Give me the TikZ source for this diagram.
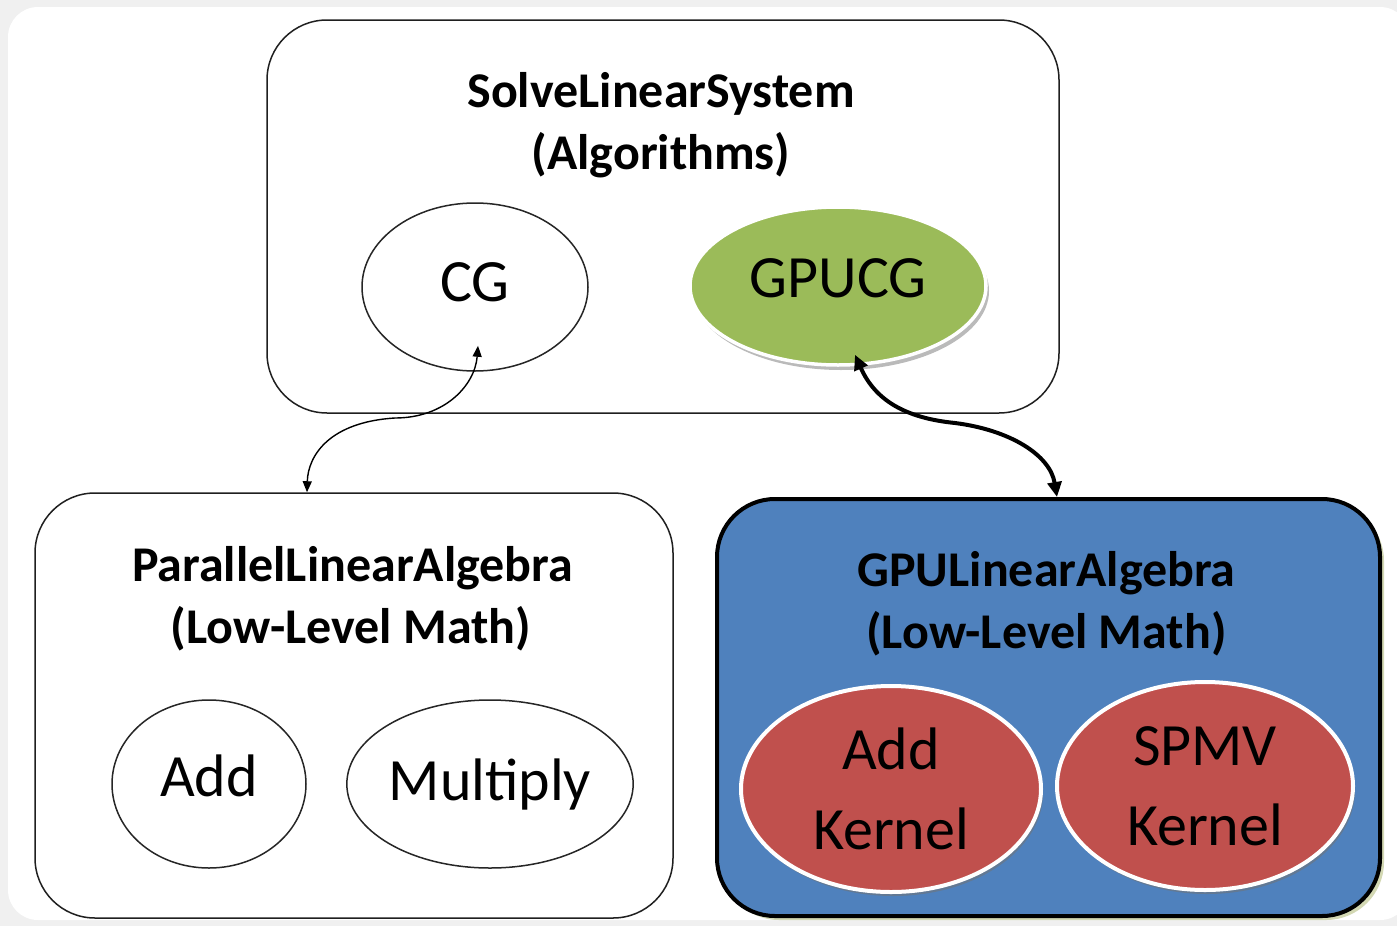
\documentclass[tikz,border=0pt]{standalone}
\usepackage{fontspec}
\setmainfont{Carlito}
\usetikzlibrary{arrows.meta,shapes.geometric,shadows,calc}
\definecolor{pagegray}{HTML}{F0F0F0}
\definecolor{ogreen}{HTML}{9BBB59}
\definecolor{oblue}{HTML}{4F81BD}
\definecolor{ored}{HTML}{C0504D}
\definecolor{halo}{HTML}{C9CFA0}

\begin{document}
\begin{tikzpicture}[x=1pt,y=-1pt,
  layerbox/.style={draw=black!88, line width=1.5pt, rounded corners=60pt, inner sep=0pt},
  gpubox/.style={draw=black, line width=4pt, fill=oblue, rounded corners=58pt, inner sep=0pt,
    drop shadow={shadow xshift=4pt, shadow yshift=-4pt, fill=halo, opacity=0.8}},
  titletext/.style={anchor=base, inner sep=0pt, font=\fontsize{50pt}{62pt}\selectfont\bfseries},
  plainell/.style={ellipse, draw=black!85, line width=1.5pt, inner sep=0pt,
    font=\fontsize{60pt}{80pt}\selectfont},
  greenell/.style={ellipse, draw=white, line width=3.5pt, fill=ogreen, inner sep=0pt,
    font=\fontsize{60pt}{80pt}\selectfont,
    drop shadow={shadow xshift=3pt, shadow yshift=-5pt, fill=black!45, opacity=0.6}},
  redell/.style={ellipse, draw=white, line width=4pt, fill=ored, inner sep=0pt, align=center,
    font=\fontsize{60pt}{80pt}\selectfont,
    drop shadow={shadow xshift=2pt, shadow yshift=-4pt, fill=black!55, opacity=0.55}},
  thinlink/.style={line width=1.4pt, black,
    arrows={Triangle[length=11pt,width=9pt]-Triangle[length=11pt,width=9pt]}},
  thicklink/.style={line width=4pt, black,
    arrows={Triangle[length=15pt,width=14pt]-Triangle[length=15pt,width=14pt]}}
]
\useasboundingbox (0,0) rectangle (1397,926);

% page background and white card
\fill[pagegray] (0,0) rectangle (1397,926);
\fill[white, rounded corners=30pt] (8,7) rectangle (1410,920);

% algorithm layer
\node[layerbox, minimum width=792pt, minimum height=393pt] (solve) at (663,216.5) {};
\node[titletext] (solveA) at (661,107) {SolveLinearSystem};
\node[titletext] (solveB) at (661,169) {(Algorithms)};
\node[plainell, minimum width=226pt, minimum height=168pt, text depth=10pt] (cg) at (475,287) {CG};
\node[greenell, minimum width=296pt, minimum height=158pt, text depth=16pt] (gpucg) at (838,286) {GPUCG};

% parallel linear algebra layer
\node[layerbox, minimum width=638pt, minimum height=425pt] (par) at (354,705.5) {};
\node[titletext] (parA) at (352.5,581) {ParallelLinearAlgebra};
\node[titletext] (parB) at (351,643) {(Low-Level Math)};
\node[plainell, minimum width=194pt, minimum height=168pt, text depth=16pt] (add) at (209,784) {Add};
\node[plainell, minimum width=279pt, minimum height=168pt] (mult) at (490,784) {Multiply};

% GPU linear algebra layer
\node[gpubox, minimum width=663pt, minimum height=417pt] (gpu) at (1048.5,707.5) {};
\node[titletext] (gpuA) at (1046.5,586) {GPULinearAlgebra};
\node[titletext] (gpuB) at (1046.5,648) {(Low-Level Math)};
\node[redell, minimum width=300pt, minimum height=206pt] (addk) at (891,789) {Add\\Kernel};
\node[redell, minimum width=296pt, minimum height=208pt] (spmv) at (1205,786) {SPMV\\Kernel};

% links between the layers
\draw[thinlink] ([xshift=-47pt]par.north)
  .. controls (308,455) and (330,422) .. (395,418)
  .. controls (445,418) and (475,385) .. ([xshift=3pt,yshift=26pt]cg.south);
\draw[thicklink] ([xshift=17pt,yshift=12pt]gpucg.south)
  .. controls (875,400) and (905,418) .. (955,423)
  .. controls (1010,430) and (1050,455) .. ([xshift=8.5pt]gpu.north);
\end{tikzpicture}
\end{document}
